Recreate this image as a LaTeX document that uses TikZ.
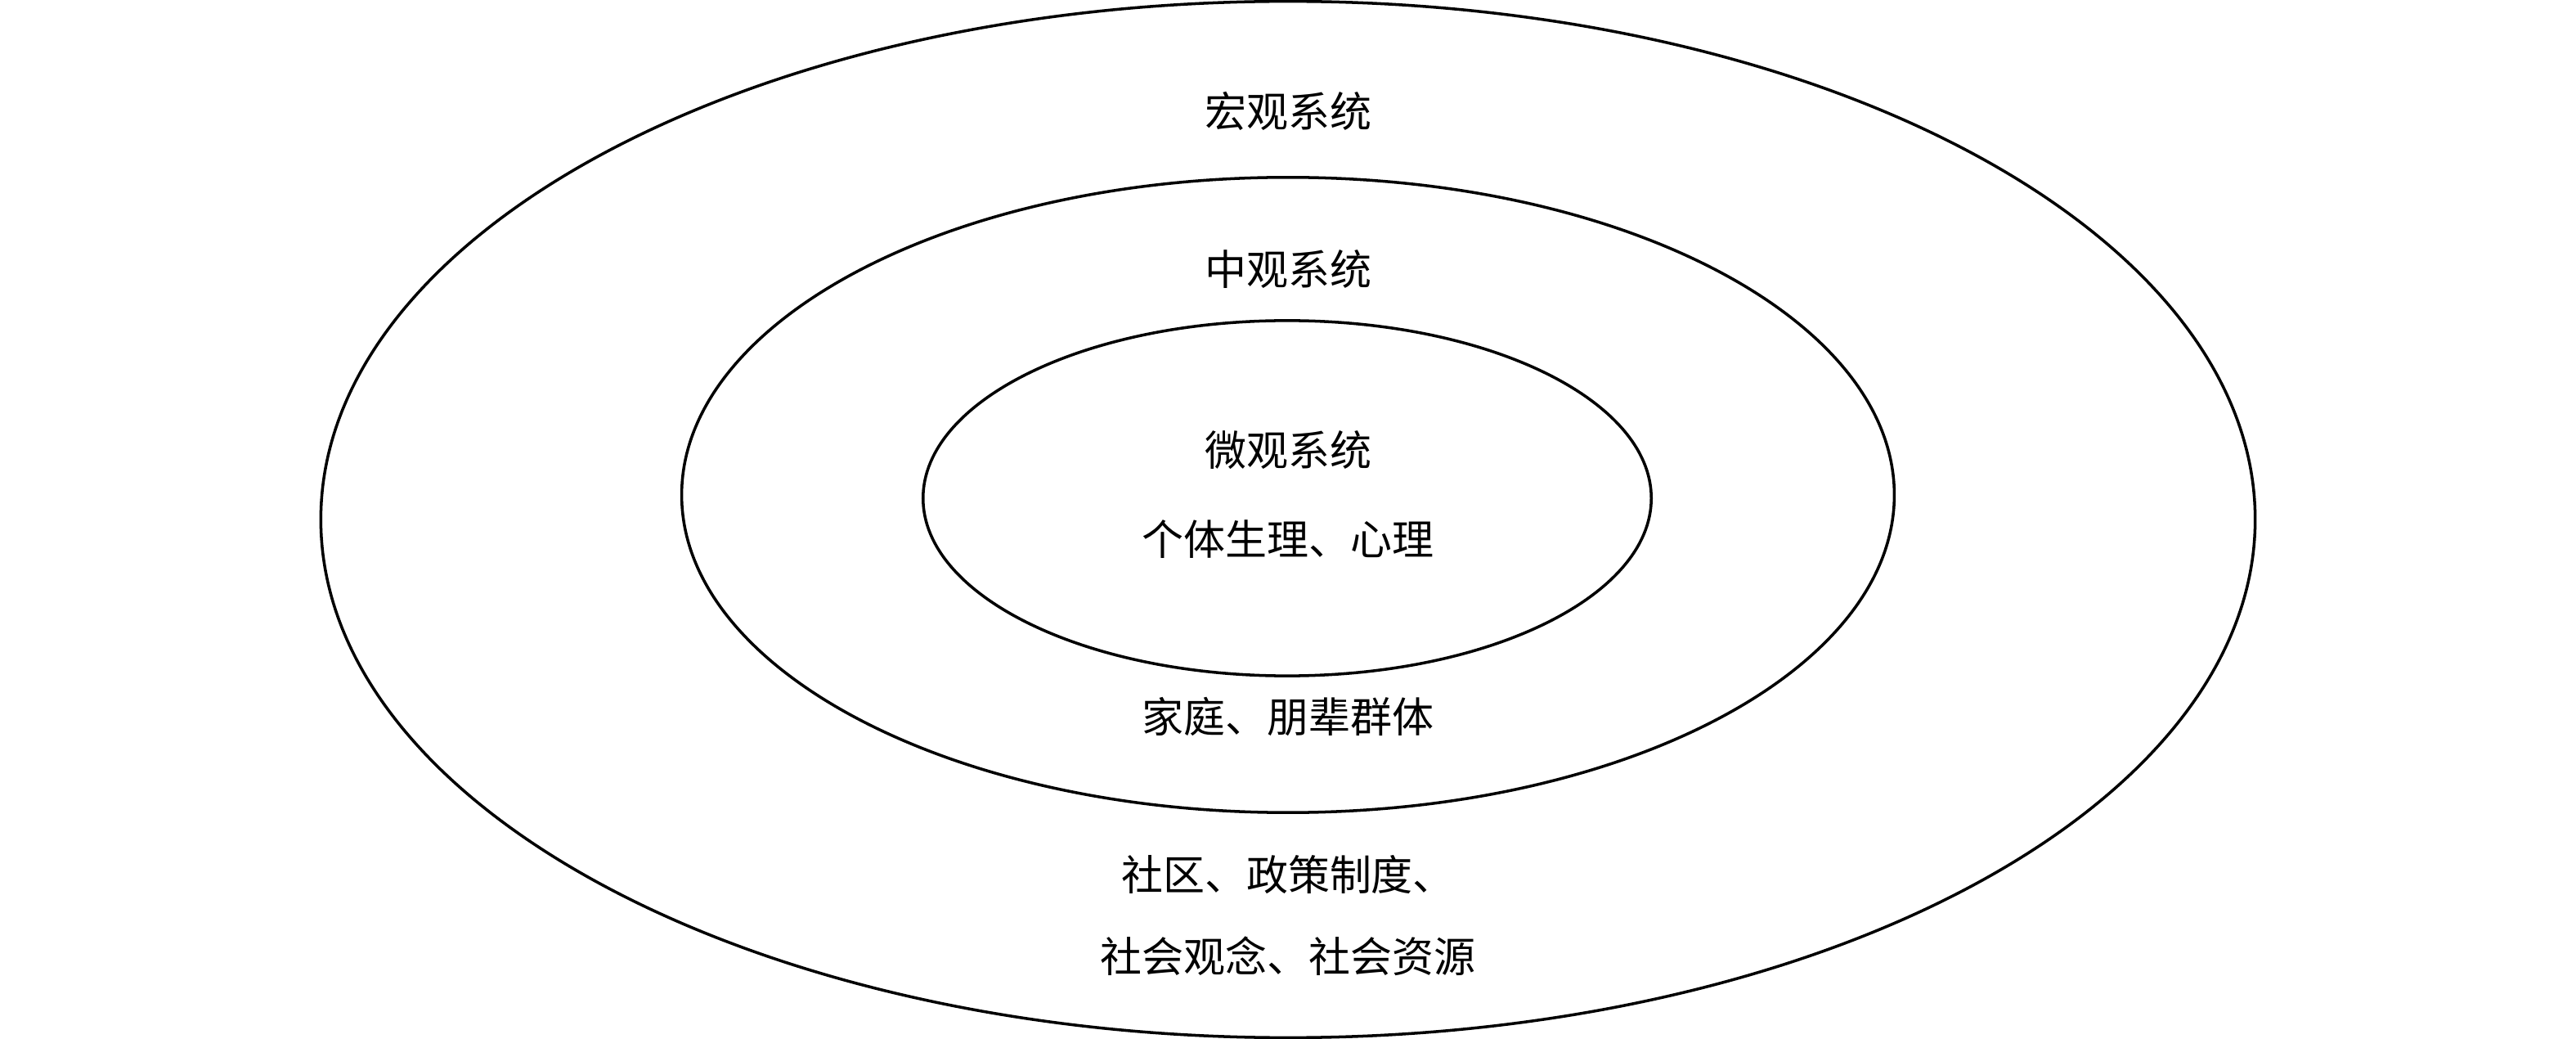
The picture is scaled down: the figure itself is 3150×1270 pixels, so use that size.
\documentclass[tikz,border=0pt]{standalone}
\usepackage{fontspec}
\setmainfont{Noto Sans CJK SC}
\usetikzlibrary{shapes.geometric}

\begin{document}
\begin{tikzpicture}[x=0.01cm,y=-0.01cm,
  capa/.style={draw,ellipse,line width=1pt,inner sep=0pt},
  texto/.style={font=\fontsize{14.5}{17}\selectfont,inner sep=0pt}]
% Marco
\useasboundingbox (0,0) rectangle (3150,1270);

% Elipses
\node[capa,minimum width=23.64cm,minimum height=12.66cm] (macro) at (1575,635) {};
\node[capa,minimum width=14.82cm,minimum height=7.76cm] (meso) at (1575,605) {};
\node[capa,minimum width=8.90cm,minimum height=4.34cm] (micro) at (1574,609) {};

% Textos
\node[texto] (tmacro) at (1575,136) {宏观系统};
\node[texto] (tmeso) at (1575,329) {中观系统};
\node[texto] (tmicro) at (1575,550) {微观系统};
\node[texto] (indiv) at (1575,659) {个体生理、心理};
\node[texto] (familia) at (1575,876) {家庭、朋辈群体};
\node[texto] (social1) at (1575,1069) {社区、政策制度、};
\node[texto] (social2) at (1575,1169) {社会观念、社会资源};
\end{tikzpicture}
\end{document}
